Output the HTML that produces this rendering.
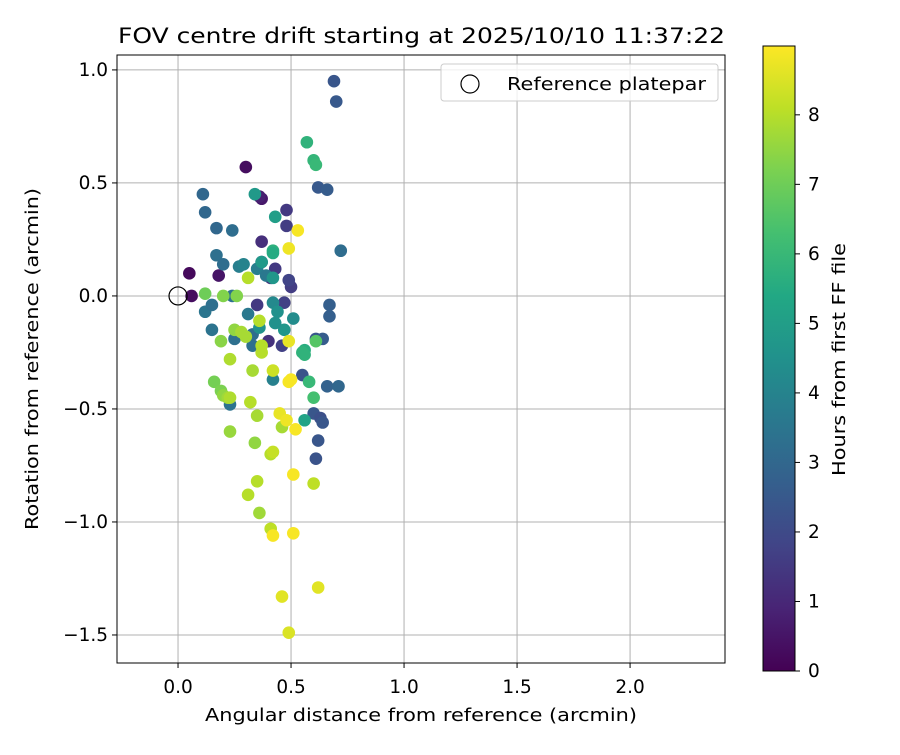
<!DOCTYPE html>
<html><head><meta charset="utf-8"><style>body{margin:0;background:#fff}svg{font-family:"DejaVu Sans","Liberation Sans",sans-serif}</style></head>
<body>
<svg id="chart" width="900" height="750" xmlns="http://www.w3.org/2000/svg">
<defs><linearGradient id="vir" x1="0" y1="1" x2="0" y2="0">
<stop offset="0" stop-color="#440154"/><stop offset="0.1" stop-color="#482475"/><stop offset="0.2" stop-color="#414487"/><stop offset="0.3" stop-color="#355f8d"/><stop offset="0.4" stop-color="#2a788e"/><stop offset="0.5" stop-color="#21918c"/><stop offset="0.6" stop-color="#22a884"/><stop offset="0.7" stop-color="#44bf70"/><stop offset="0.8" stop-color="#7ad151"/><stop offset="0.9" stop-color="#bddf26"/><stop offset="1" stop-color="#fde725"/></linearGradient></defs>
</svg>
<script>
const xTicks=[0,0.5,1,1.5,2];
const xTickLabels=["0.0","0.5","1.0","1.5","2.0"];
const yTicks=[1,0.5,0,-0.5,-1,-1.5];
const yTickLabels=["1.0","0.5","0.0","\u22120.5","\u22121.0","\u22121.5"];
const cTicks=[0,1,2,3,4,5,6,7,8];
const ptsX=[0.05,0.06,0.30,0.18,0.37,0.36,0.37,0.48,0.48,0.43,0.41,0.50,0.49,0.47,0.35,0.46,0.40,0.37,0.69,0.70,0.62,0.66,0.61,0.64,0.67,0.67,0.55,0.60,0.63,0.64,0.62,0.61,0.66,0.71,0.72,0.11,0.12,0.17,0.24,0.17,0.20,0.24,0.12,0.15,0.15,0.23,0.25,0.33,0.31,0.33,0.35,0.27,0.29,0.39,0.42,0.51,0.34,0.43,0.37,0.42,0.42,0.47,0.44,0.36,0.43,0.56,0.56,0.57,0.60,0.61,0.42,0.42,0.58,0.60,0.61,0.56,0.55,0.12,0.16,0.19,0.20,0.22,0.23,0.20,0.19,0.23,0.23,0.25,0.26,0.28,0.31,0.30,0.33,0.36,0.37,0.37,0.35,0.32,0.34,0.35,0.36,0.31,0.41,0.42,0.46,0.41,0.60,0.42,0.53,0.49,0.49,0.49,0.50,0.45,0.48,0.52,0.51,0.42,0.51,0.46,0.62,0.49];
const ptsY=[0.10,0.00,0.57,0.09,0.43,0.44,0.24,0.38,0.31,0.12,0.08,0.04,0.07,-0.03,-0.04,-0.22,-0.20,0.15,0.95,0.86,0.48,0.47,-0.19,-0.19,-0.04,-0.09,-0.35,-0.52,-0.54,-0.56,-0.64,-0.72,-0.40,-0.40,0.20,0.45,0.37,0.30,0.29,0.18,0.14,0.00,-0.07,-0.04,-0.15,-0.48,-0.19,-0.22,-0.08,-0.17,0.12,0.13,0.14,0.09,-0.37,-0.10,0.45,0.35,0.15,0.08,-0.03,-0.15,-0.07,-0.14,-0.12,-0.55,-0.24,0.68,0.60,0.58,0.20,0.19,-0.38,-0.45,-0.20,-0.26,-0.25,0.01,-0.38,-0.42,-0.44,-0.45,-0.45,0.00,-0.20,-0.28,-0.60,-0.15,0.00,-0.16,0.08,-0.18,-0.33,-0.11,-0.22,-0.25,-0.53,-0.47,-0.65,-0.82,-0.96,-0.88,-0.70,-0.69,-0.58,-1.03,-0.83,-0.33,0.29,0.21,-0.20,-0.38,-0.37,-0.52,-0.55,-0.59,-0.79,-1.06,-1.05,-1.33,-1.29,-1.49];
const ptsH=[0.2,0.3,0.3,0.5,0.6,0.8,1.2,1.5,1.6,1.5,1.4,1.6,1.8,1.7,1.5,1.7,1.3,1.8,2.4,2.5,2.5,2.6,2.4,2.6,2.7,2.7,2.3,2.4,2.2,2.4,2.4,2.3,2.8,3.0,3.2,3.0,3.0,3.0,3.2,3.3,3.2,3.3,3.5,3.3,3.4,3.4,3.3,3.3,3.6,3.2,3.8,3.8,4.0,3.6,3.9,4.3,4.8,5.0,4.8,4.7,4.2,4.7,4.5,4.5,4.5,5.2,5.6,5.8,5.9,6.0,5.7,5.5,6.0,6.3,6.6,5.8,5.8,7.0,7.1,7.2,7.5,7.7,7.9,7.3,7.4,7.9,7.6,7.5,7.3,7.8,8.0,7.8,7.8,8.0,8.0,8.0,7.8,8.0,7.5,8.0,7.7,8.0,8.0,8.2,7.8,8.1,8.1,8.3,8.9,8.8,8.7,8.9,8.9,8.7,8.8,8.9,8.9,8.9,8.9,8.6,8.6,8.5];
const svg=document.getElementById('chart');const NS="http://www.w3.org/2000/svg";
const L=117,R=725,T=55,B=663,xmin=-0.27,xmax=2.42,ymin=-1.624,ymax=1.066,hmax=8.99;
const sx=v=>L+(v-xmin)/(xmax-xmin)*(R-L), sy=v=>B-(v-ymin)/(ymax-ymin)*(B-T);
const cT=46,cB=671,cy=h=>cB-h/hmax*(cB-cT);
const FS=17.5, TFS=18.5;
function mk(tag,a,txt){const e=document.createElementNS(NS,tag);for(const k in a)e.setAttribute(k,a[k]);if(txt!==undefined)e.textContent=txt;svg.appendChild(e);return e;}
const stops=["#440154","#482475","#414487","#355f8d","#2a788e","#21918c","#22a884","#44bf70","#7ad151","#bddf26","#fde725"];
function hx(c){return [1,3,5].map(i=>parseInt(c.substr(i,2),16));}
function vir(t){t=Math.max(0,Math.min(1,t));const p=t*10,i=Math.min(9,Math.floor(p)),f=p-i;const a=hx(stops[i]),b=hx(stops[i+1]);return "rgb("+a.map((v,k)=>Math.round(v+(b[k]-v)*f)).join(",")+")";}
function fitText(el,w){el.setAttribute('textLength',w);el.setAttribute('lengthAdjust','spacingAndGlyphs');}
xTicks.forEach((v,i)=>{let g=mk('line',{x1:sx(v),x2:sx(v),y1:T,y2:B,stroke:'#b0b0b0','stroke-width':1});
let t=mk('line',{x1:sx(v),x2:sx(v),y1:B,y2:B+5,stroke:'#000'});
let l=mk('text',{x:sx(v),y:B+30,'text-anchor':'middle','font-size':TFS},xTickLabels[i]);});
yTicks.forEach((v,i)=>{let g=mk('line',{x1:L,x2:R,y1:sy(v),y2:sy(v),stroke:'#b0b0b0','stroke-width':1});
let t=mk('line',{x1:L-5,x2:L,y1:sy(v),y2:sy(v),stroke:'#000'});
let l=mk('text',{x:L-9,y:sy(v)+6,'text-anchor':'end','font-size':TFS},yTickLabels[i]);});
ptsX.forEach((x,i)=>{let c=mk('circle',{cx:sx(x),cy:sy(ptsY[i]),r:6.3,fill:vir(ptsH[i]/hmax)});});
let ref=mk('circle',{cx:sx(0),cy:sy(0),r:9,fill:'none',stroke:'#000','stroke-width':1.2});
let fr=mk('rect',{x:L,y:T,width:R-L,height:B-T,fill:'none',stroke:'#000','stroke-width':1});
let lg=mk('rect',{x:441,y:64,width:277,height:37,rx:3,fill:'#fff','fill-opacity':0.8,stroke:'#ccc'});
let lc=mk('circle',{cx:470,cy:84,r:9,fill:'none',stroke:'#000','stroke-width':1.2});
let lt=mk('text',{x:507,y:90,'font-size':FS},'Reference platepar');fitText(lt,199);
let ti=mk('text',{x:118,y:43,'font-size':21},'FOV centre drift starting at 2025/10/10 11:37:22');fitText(ti,607);
let xl=mk('text',{x:205,y:721,'font-size':FS},'Angular distance from reference (arcmin)');fitText(xl,432);
let yl=mk('text',{x:188,y:38,'font-size':FS,transform:'translate(0 718) rotate(-90)'},'Rotation from reference (arcmin)');
yl.setAttribute('x',188);yl.setAttribute('y',38);fitText(yl,342);

let cb=mk('rect',{x:763,y:cT,width:32,height:cB-cT,fill:'url(#vir)',stroke:'#000','stroke-width':1});
cTicks.forEach(h=>{let t=mk('line',{x1:795,x2:800,y1:cy(h),y2:cy(h),stroke:'#000'});
let l=mk('text',{x:808,y:cy(h)+6,'font-size':TFS},String(h));});
let cl=mk('text',{x:243,y:845,'font-size':FS,transform:'translate(0 719) rotate(-90)'},'Hours from first FF file');fitText(cl,233);
</script>
</body></html>
